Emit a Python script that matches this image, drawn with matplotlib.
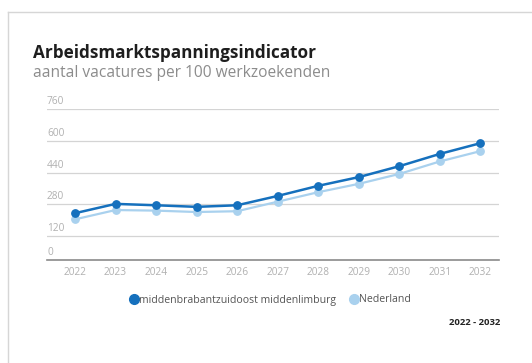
import numpy as np
import matplotlib
matplotlib.use("Agg")
import matplotlib.pyplot as plt
from matplotlib.lines import Line2D

years = [2022, 2023, 2024, 2025, 2026, 2027, 2028, 2029, 2030, 2031, 2032]
regio = [236, 283, 276, 268, 276, 323, 374, 418, 473, 535, 589]
nederland = [205, 252, 249, 242, 246, 294, 342, 384, 434, 497, 549]
yticks = [0, 120, 280, 440, 600, 760]

dark = '#1570bd'
light = '#a9d1ee'
W, H = 532, 363

plt.rcParams['font.family'] = ['Open Sans', 'DejaVu Sans']

fig = plt.figure(figsize=(W / 100, H / 100), dpi=100)
fig.patch.set_facecolor('white')

# frame line left/top
fig.add_artist(Line2D([8 / W, 8 / W], [0, 1 - 12 / H], transform=fig.transFigure, color='#d6d6d6', lw=1))
fig.add_artist(Line2D([8 / W, 1], [1 - 12 / H, 1 - 12 / H], transform=fig.transFigure, color='#d6d6d6', lw=1))

ax = fig.add_axes([47 / W, 1 - 260 / H, (499 - 47) / W, (260 - 109.3) / H])
ax.plot(years, nederland, color=light, lw=1.6, marker='o', ms=5.3, zorder=3)
ax.plot(years, regio, color=dark, lw=1.8, marker='o', ms=5.3, zorder=4)

ax.set_xlim(2022 - 0.69, 2032 + 0.46)
ax.set_ylim(0, 760)
for v in yticks[1:]:
    ax.axhline(v, color='#d4d4d4', lw=0.9, zorder=1)
    ax.text(0, v + 10, str(v), transform=ax.get_yaxis_transform(), fontsize=7.3,
            color='#b0b0b0', ha='left', va='bottom')
ax.text(0, 10, '0', transform=ax.get_yaxis_transform(), fontsize=7.3,
        color='#b0b0b0', ha='left', va='bottom')

for s in ['top', 'right', 'left']:
    ax.spines[s].set_visible(False)
ax.spines['bottom'].set_color('#8a8a8a')
ax.spines['bottom'].set_linewidth(1.2)
ax.set_yticks([])
ax.set_xticks(years)
ax.set_xticklabels([str(y) for y in years], fontsize=7.3, color='#b0b0b0')
ax.tick_params(axis='x', length=0, pad=5)

fig.text(33 / W, 1 - 58 / H, 'Arbeidsmarktspanningsindicator', fontsize=12.3,
         fontweight='bold', color='#1e1e1e', ha='left', va='baseline')
fig.text(33 / W, 1 - 77 / H, 'aantal vacatures per 100 werkzoekenden', fontsize=11.2,
         color='#8c8c8c', ha='left', va='baseline')

handles = [Line2D([], [], color=dark, marker='o', ls='', ms=7),
           Line2D([], [], color=light, marker='o', ls='', ms=7)]
fig.legend(handles, ['middenbrabantzuidoost middenlimburg', 'Nederland'],
           loc='center', bbox_to_anchor=(270 / W, 1 - 300 / H), ncol=2, frameon=False,
           fontsize=7.6, handletextpad=0.0, columnspacing=1.2, handlelength=1,
           labelcolor='#555555')

fig.text(500 / W, 1 - 325 / H, '2022 - 2032', fontsize=6.8, fontweight='bold',
         color='#222222', ha='right', va='baseline')

fig.savefig('out.png', dpi=100)
